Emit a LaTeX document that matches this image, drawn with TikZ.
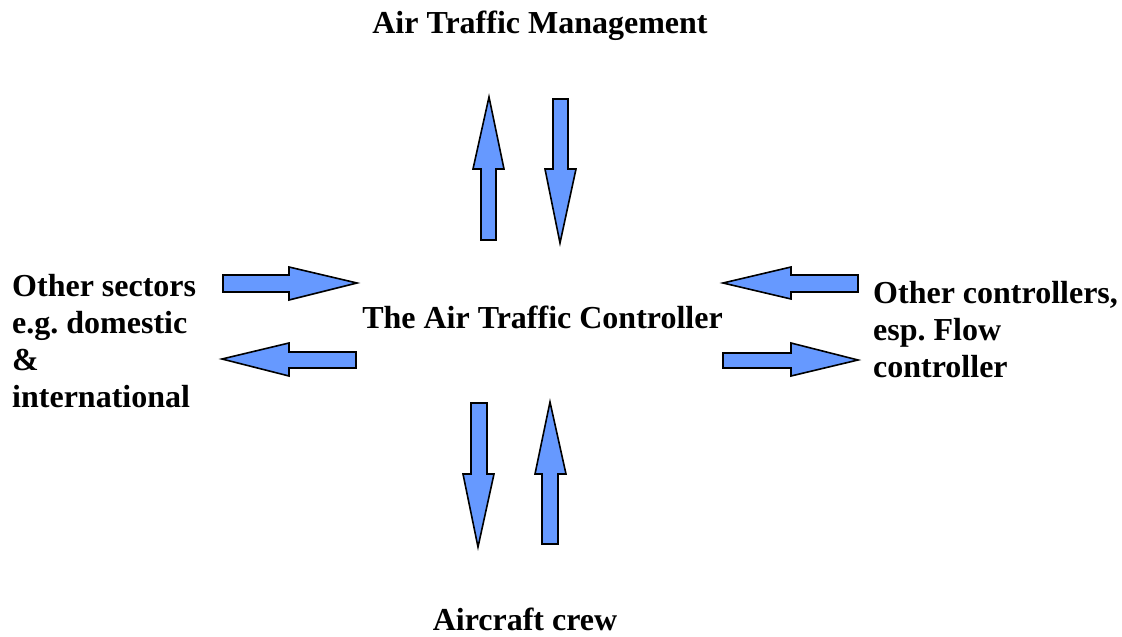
\documentclass[tikz,border=0pt]{standalone}
\usepackage{fontspec}
\setmainfont{Liberation Serif}
\frenchspacing
\definecolor{arrowblue}{HTML}{6699FF}
\begin{document}
\begin{tikzpicture}[x=1pt,y=-1pt,
  blockarrow/.style={fill=arrowblue,draw=black,line width=1.6pt,line join=miter},
  lbl/.style={inner sep=0pt,font=\fontsize{32}{37}\selectfont\bfseries}]
\useasboundingbox (0,0) rectangle (1122,637);
% texts
\node[lbl,anchor=base] (atm) at (540,33) {Air Traffic Management};
\node[lbl,anchor=base] (atc) at (542.5,328) {The Air Traffic Controller};
\node[lbl,anchor=base] (crew) at (525,630) {Aircraft crew};
\node[lbl,anchor=base west,align=left] (sect) at (12,407) {Other sectors\\e.g. domestic\\\&\\international};
\node[lbl,anchor=base west,align=left] (ctrl) at (873,377) {Other controllers,\\esp. Flow\\controller};
% top pair
\draw[blockarrow] (489,97) -- (504,169) -- (496,169) -- (496,240) -- (481,240) -- (481,169) -- (473,169) -- cycle;
\draw[blockarrow] (560,243) -- (576,169) -- (568,169) -- (568,99) -- (553,99) -- (553,169) -- (545,169) -- cycle;
% left pair
\draw[blockarrow] (357,283) -- (289,267) -- (289,275) -- (223,275) -- (223,292) -- (289,292) -- (289,300) -- cycle;
\draw[blockarrow] (222,359) -- (289,343) -- (289,352) -- (356,352) -- (356,368) -- (289,368) -- (289,376) -- cycle;
% right pair
\draw[blockarrow] (723,283) -- (791,267) -- (791,275) -- (858,275) -- (858,292) -- (791,292) -- (791,299) -- cycle;
\draw[blockarrow] (858,360) -- (791,343) -- (791,353) -- (723,353) -- (723,368) -- (791,368) -- (791,376) -- cycle;
% bottom pair
\draw[blockarrow] (478,547) -- (494,474) -- (487,474) -- (487,403) -- (471,403) -- (471,474) -- (463,474) -- cycle;
\draw[blockarrow] (550,402) -- (566,474) -- (558,474) -- (558,544) -- (542,544) -- (542,474) -- (535,474) -- cycle;
\end{tikzpicture}
\end{document}
